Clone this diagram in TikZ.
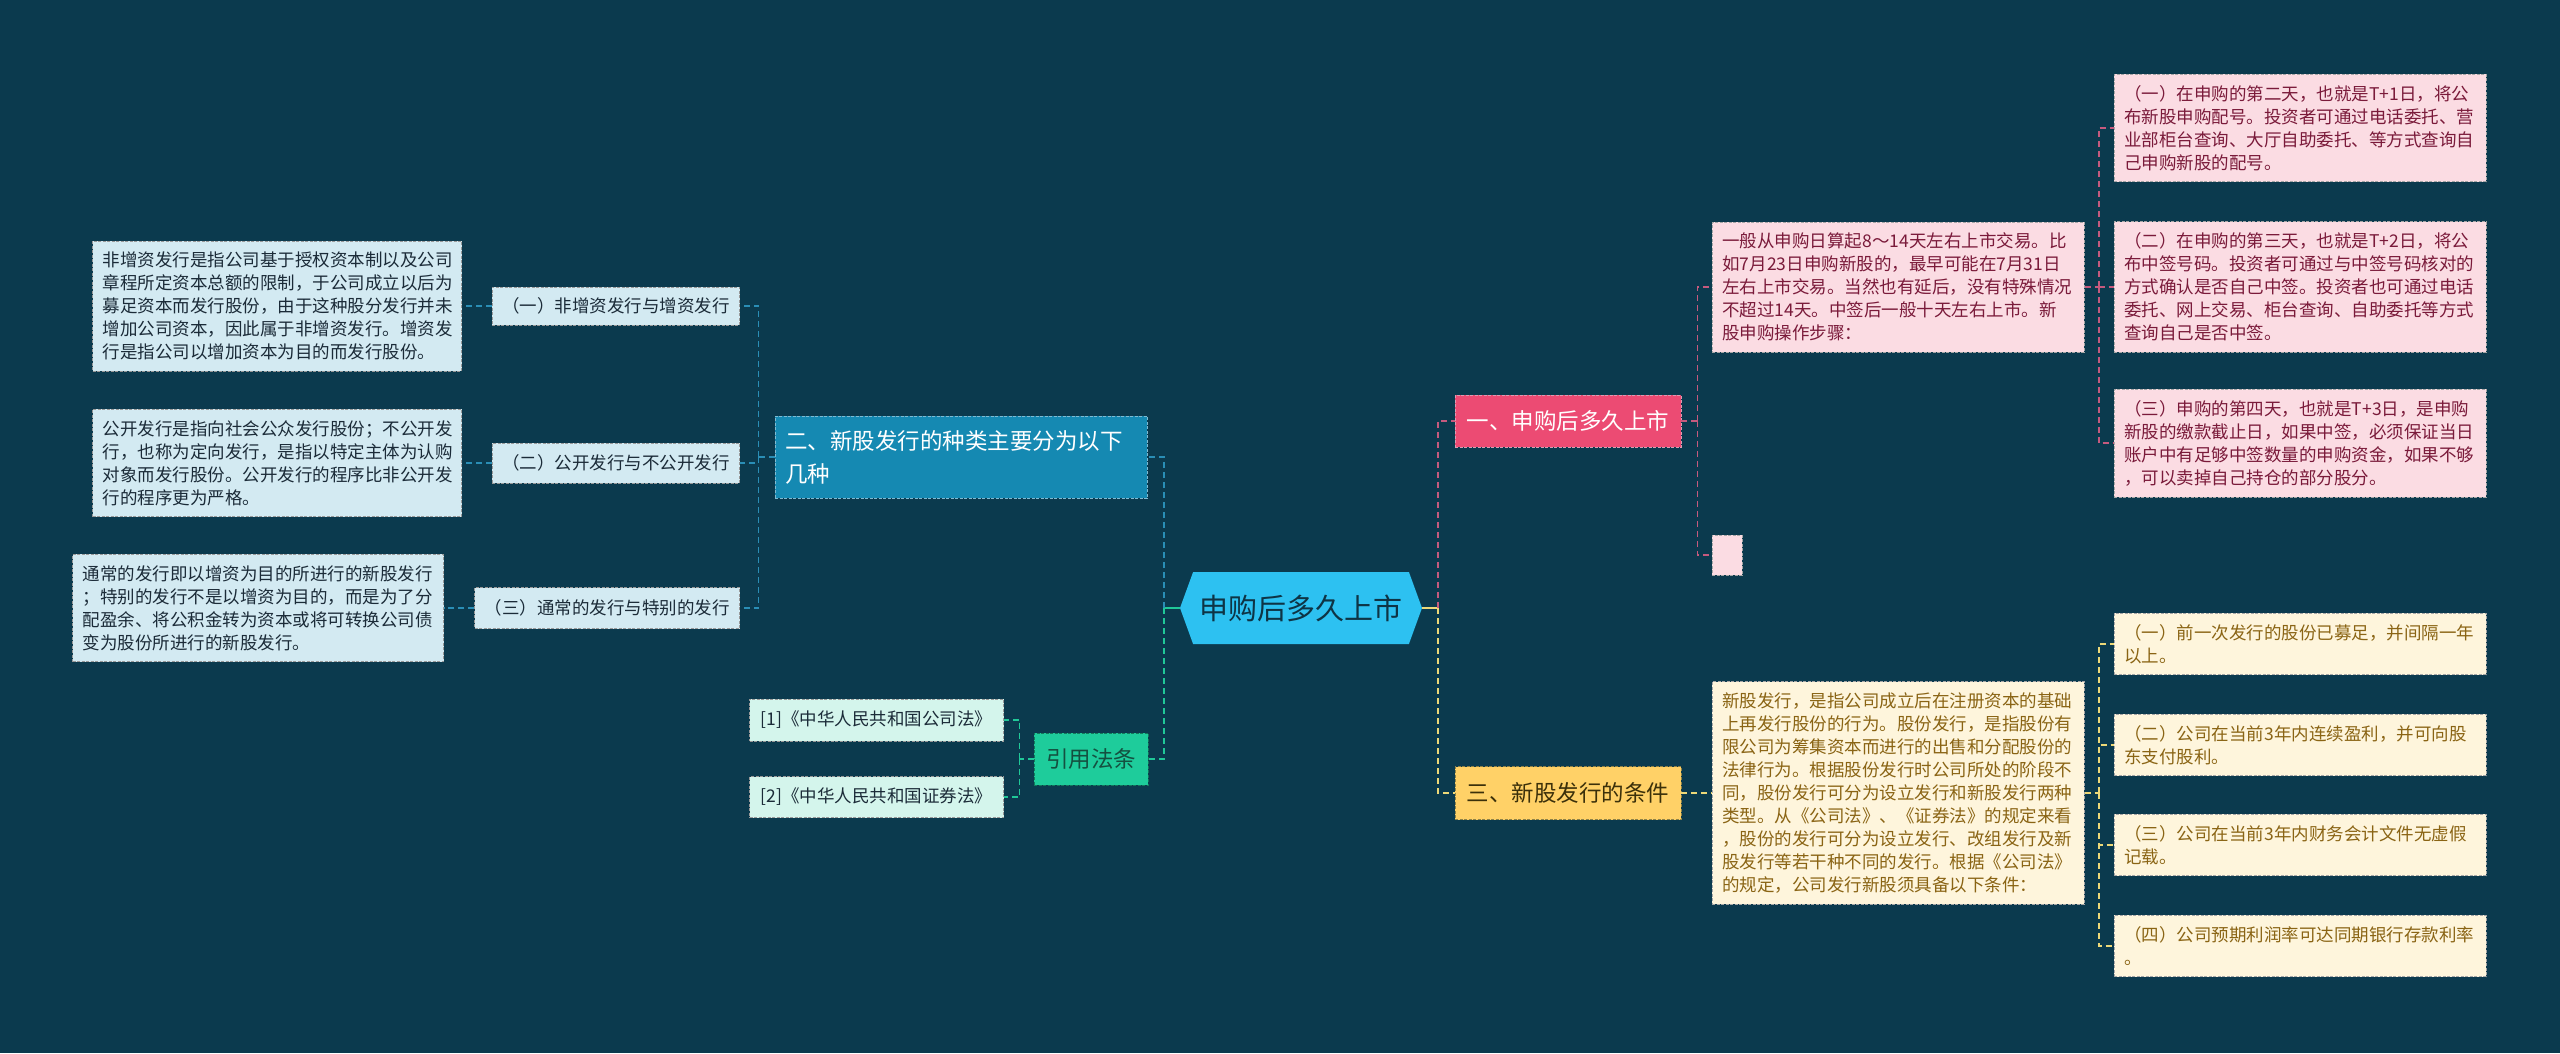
\documentclass[tikz,border=0pt]{standalone}
\usepackage{fontspec}
\setmainfont{Noto Sans CJK SC}
\usetikzlibrary{shapes.symbols}

\definecolor{bg}{HTML}{0B3A4E}
\definecolor{corefill}{HTML}{2DC1F1}
\definecolor{coretext}{HTML}{0E3445}
\definecolor{kindsfill}{HTML}{1589B2}
\definecolor{leftfill}{HTML}{D3EAF2}
\definecolor{lefttext}{HTML}{1B2B38}
\definecolor{lawsfill}{HTML}{1ECC9B}
\definecolor{lawstext}{HTML}{145040}
\definecolor{lawfill}{HTML}{D4F5EC}
\definecolor{listfill}{HTML}{EC4B73}
\definecolor{pinkfill}{HTML}{FBDCE3}
\definecolor{pinktext}{HTML}{7A1A3A}
\definecolor{termsfill}{HTML}{FFD167}
\definecolor{termstext}{HTML}{3B300A}
\definecolor{yellowfill}{HTML}{FEF5DC}
\definecolor{yellowtext}{HTML}{8A6414}
\definecolor{bluelink}{HTML}{2A8EB6}
\definecolor{greenlink}{HTML}{20C898}
\definecolor{pinklink}{HTML}{C65A7E}
\definecolor{yellowlink}{HTML}{EDD878}

\begin{document}
\begin{tikzpicture}[x=1pt, y=-1pt,
    box/.style={rectangle, draw, dash pattern=on 3pt off 1.5pt, line width=0.7pt, inner xsep=10pt, inner ysep=11pt},
    note/.style={box, align=left, text width=352pt, font=\fontsize{17.5}{23}\selectfont},
    tag/.style={box, inner ysep=0pt, font=\fontsize{17.5}{23}\selectfont},
    head/.style={box, inner ysep=0pt, font=\fontsize{22.5}{33}\selectfont},
    leftbox/.style={fill=leftfill, draw=black!40, text=lefttext},
    lawbox/.style={fill=lawfill, draw=black!40, text=lefttext},
    pinkbox/.style={fill=pinkfill, draw=black!35, text=pinktext},
    yellowbox/.style={fill=yellowfill, draw=black!35, text=yellowtext},
    link/.style={dash pattern=on 6pt off 4pt, line width=1.6pt},
    stub/.style={line width=2.4pt}]

    \fill[bg] (0,0) rectangle (2560,1053);
    \useasboundingbox (0,0) rectangle (2560,1053);

    % Centre
    \node[signal, signal to=west and east, signal pointer angle=140, fill=corefill, text=coretext,
          minimum width=242, minimum height=72, inner sep=0pt, font=\fontsize{29}{33}\selectfont]
          (core) at (1301,608) {申购后多久上市};

    % Left part
    \node[head, fill=kindsfill, draw=bluelink!60!white, text=white, align=left, text width=352pt,
          minimum height=82] (kinds) at (961,457) {二、新股发行的种类主要分为以下\\几种};
    \node[tag, leftbox, minimum width=244, minimum height=38, anchor=east] (itemA) at (740,306) {（一）非增资发行与增资发行};
    \node[tag, leftbox, minimum width=244, minimum height=40, anchor=east] (itemB) at (740,463) {（二）公开发行与不公开发行};
    \node[tag, leftbox, minimum width=263, minimum height=41, anchor=east] (itemC) at (740,608) {（三）通常的发行与特别的发行};
    \node[note, leftbox, text width=349pt, anchor=east] (descA) at (462,306)
        {非增资发行是指公司基于授权资本制以及公司\\章程所定资本总额的限制，于公司成立以后为\\募足资本而发行股份，由于这种股分发行并未\\增加公司资本，因此属于非增资发行。增资发\\行是指公司以增加资本为目的而发行股份。};
    \node[note, leftbox, text width=349pt, anchor=east] (descB) at (462,463)
        {公开发行是指向社会公众发行股份；不公开发\\行，也称为定向发行，是指以特定主体为认购\\对象而发行股份。公开发行的程序比非公开发\\行的程序更为严格。};
    \node[note, leftbox, text width=351pt, anchor=east] (descC) at (444,608)
        {通常的发行即以增资为目的所进行的新股发行\\；特别的发行不是以增资为目的，而是为了分\\配盈余、将公积金转为资本或将可转换公司债\\变为股份所进行的新股发行。};

    \node[head, fill=lawsfill, draw=greenlink!60!black, text=lawstext, minimum width=114, minimum height=52] (laws) at (1091,759) {引用法条};
    \node[tag, lawbox, minimum width=254, minimum height=42, anchor=east] (lawA) at (1004,720) {[1]《中华人民共和国公司法》};
    \node[tag, lawbox, minimum width=254, minimum height=41, anchor=east] (lawB) at (1004,797) {[2]《中华人民共和国证券法》};

    % Right part
    \node[head, fill=listfill, draw=pinklink!60!white, text=white, minimum width=226, minimum height=52] (listing) at (1568,421) {一、申购后多久上市};
    \node[head, fill=termsfill, draw=yellowlink!60!black, text=termstext, minimum width=226, minimum height=53] (terms) at (1568,793) {三、新股发行的条件};

    \node[note, pinkbox, anchor=west] (timeline) at (1712,287)
        {一般从申购日算起8～14天左右上市交易。比\\如7月23日申购新股的，最早可能在7月31日\\左右上市交易。当然也有延后，没有特殊情况\\不超过14天。中签后一般十天左右上市。新\\股申购操作步骤：};
    \node[box, pinkbox, inner sep=0pt, minimum width=30, minimum height=40, anchor=west] (blank) at (1712,555) {};
    \node[note, pinkbox, anchor=west] (dayA) at (2114,128)
        {（一）在申购的第二天，也就是T+1日，将公\\布新股申购配号。投资者可通过电话委托、营\\业部柜台查询、大厅自助委托、等方式查询自\\己申购新股的配号。};
    \node[note, pinkbox, anchor=west] (dayB) at (2114,287)
        {（二）在申购的第三天，也就是T+2日，将公\\布中签号码。投资者可通过与中签号码核对的\\方式确认是否自己中签。投资者也可通过电话\\委托、网上交易、柜台查询、自助委托等方式\\查询自己是否中签。};
    \node[note, pinkbox, anchor=west] (dayC) at (2114,443)
        {（三）申购的第四天，也就是T+3日，是申购\\新股的缴款截止日，如果中签，必须保证当日\\账户中有足够中签数量的申购资金，如果不够\\，可以卖掉自己持仓的部分股分。};

    \node[note, yellowbox, anchor=west] (rules) at (1712,793)
        {新股发行，是指公司成立后在注册资本的基础\\上再发行股份的行为。股份发行，是指股份有\\限公司为筹集资本而进行的出售和分配股份的\\法律行为。根据股份发行时公司所处的阶段不\\同，股份发行可分为设立发行和新股发行两种\\类型。从《公司法》、《证券法》的规定来看\\，股份的发行可分为设立发行、改组发行及新\\股发行等若干种不同的发行。根据《公司法》\\的规定，公司发行新股须具备以下条件：};
    \node[note, yellowbox, anchor=west] (ruleA) at (2114,644) {（一）前一次发行的股份已募足，并间隔一年\\以上。};
    \node[note, yellowbox, anchor=west] (ruleB) at (2114,745) {（二）公司在当前3年内连续盈利，并可向股\\东支付股利。};
    \node[note, yellowbox, anchor=west] (ruleC) at (2114,845) {（三）公司在当前3年内财务会计文件无虚假\\记载。};
    \node[note, yellowbox, anchor=west] (ruleD) at (2114,946) {（四）公司预期利润率可达同期银行存款利率\\。};

    % Links
    \draw[stub, greenlink] (core.west) -- ++(-16,0) coordinate (lj);
    \draw[stub, yellowlink] (core.east) -- ++(16,0) coordinate (rj);
    \draw[link, bluelink] (lj) |- (kinds.east);
    \draw[link, greenlink] (lj) |- (laws.east);
    \draw[link, pinklink] (rj) |- (listing.west);
    \draw[link, yellowlink] (rj) |- (terms.west);

    \draw[link, bluelink] (kinds.west) -- ++(-16,0) coordinate (kj);
    \draw[link, bluelink] (kj) |- (itemA.east);
    \draw[link, bluelink] (kj) |- (itemB.east);
    \draw[link, bluelink] (kj) |- (itemC.east);
    \draw[link, bluelink] (itemA.west) -- (descA.east);
    \draw[link, bluelink] (itemB.west) -- (descB.east);
    \draw[link, bluelink] (itemC.west) -- (descC.east);

    \draw[link, greenlink] (laws.west) -- ++(-14,0) coordinate (gj);
    \draw[link, greenlink] (gj) |- (lawA.east);
    \draw[link, greenlink] (gj) |- (lawB.east);

    \draw[link, pinklink] (listing.east) -- ++(16,0) coordinate (pj);
    \draw[link, pinklink] (pj) |- (timeline.west);
    \draw[link, pinklink] (pj) |- (blank.west);
    \draw[link, pinklink] (timeline.east) -- ++(14,0) coordinate (dj);
    \draw[link, pinklink] (dj) |- (dayA.west);
    \draw[link, pinklink] (dj) |- (dayB.west);
    \draw[link, pinklink] (dj) |- (dayC.west);

    \draw[link, yellowlink] (terms.east) -- (rules.west);
    \draw[link, yellowlink] (rules.east) -- ++(14,0) coordinate (yj);
    \draw[link, yellowlink] (yj) |- (ruleA.west);
    \draw[link, yellowlink] (yj) |- (ruleB.west);
    \draw[link, yellowlink] (yj) |- (ruleC.west);
    \draw[link, yellowlink] (yj) |- (ruleD.west);
\end{tikzpicture}
\end{document}
